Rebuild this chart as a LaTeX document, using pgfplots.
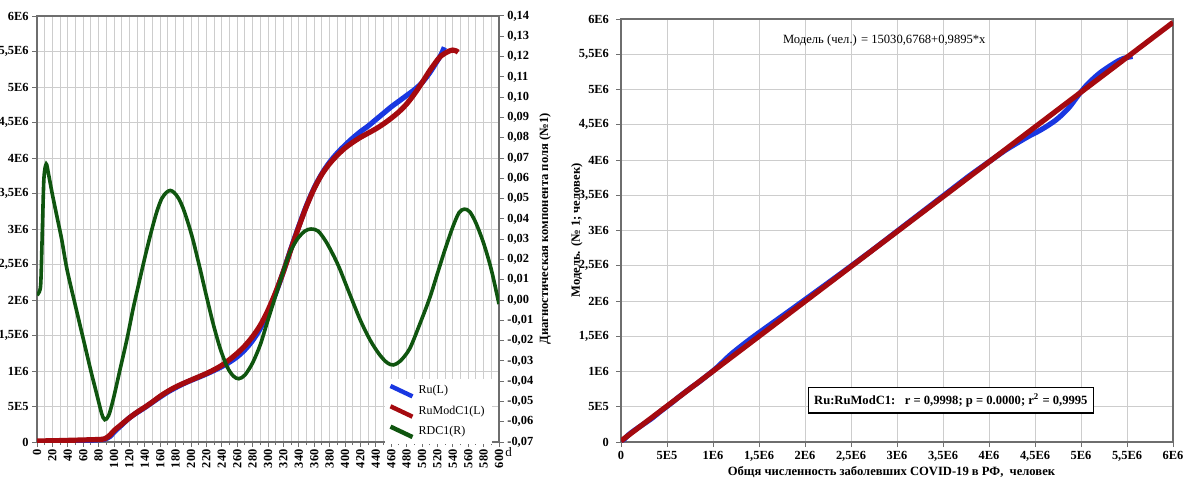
\documentclass[border=0pt]{standalone}
\usepackage{fontspec}
\setmainfont{Liberation Serif}
\usepackage{pgfplots}
\pgfplotsset{compat=1.18}
\usepackage{pgfplotstable}

\definecolor{cblue}{RGB}{25,55,225}
\definecolor{cred}{RGB}{165,10,15}
\definecolor{cgreen}{RGB}{15,85,15}
\definecolor{gridc}{RGB}{205,205,205}
\definecolor{framec}{RGB}{110,110,110}

\pgfplotstableread{
d Ru Mod
0 0 15000
10 1000 16000
20 3000 18000
30 6000 20000
40 10000 23000
50 14000 26000
60 19000 29000
70 24000 32000
80 31000 36000
88 40000 45000
95 80000 100000
100 140000 160000
110 240000 250000
120 340000 340000
130 415000 420000
140 485000 490000
150 560000 565000
160 635000 645000
170 705000 715000
180 765000 775000
190 820000 825000
200 868000 872000
210 912000 918000
220 958000 965000
230 1008000 1018000
240 1062000 1080000
250 1125000 1160000
260 1200000 1250000
270 1300000 1355000
280 1430000 1485000
290 1600000 1645000
300 1825000 1855000
310 2095000 2110000
320 2400000 2400000
330 2730000 2720000
340 3040000 3030000
350 3330000 3320000
360 3580000 3570000
370 3780000 3770000
380 3940000 3920000
390 4070000 4040000
400 4180000 4140000
410 4280000 4220000
420 4370000 4290000
430 4450000 4350000
440 4540000 4410000
450 4630000 4480000
460 4720000 4560000
470 4800000 4650000
480 4880000 4760000
490 4960000 4900000
500 5060000 5060000
510 5200000 5230000
520 5370000 5380000
525 5460000 5440000
529 5560000 5470000
535 nan 5505000
540 nan 5520000
544 nan 5510000
547 nan 5490000
}\ru

\pgfplotstableread{
d v
0 0.0025
3 0.004
5 0.009
7 0.035
9 0.060
12 0.067
15 0.062
20 0.052
26 0.041
32 0.030
39 0.015
50 -0.003
60 -0.019
70 -0.035
78 -0.047
84 -0.056
88 -0.059
93 -0.057
99 -0.049
108 -0.034
117 -0.019
125 -0.004
134 0.011
142 0.024
150 0.036
156 0.044
162 0.050
168 0.053
173 0.054
178 0.053
184 0.050
190 0.045
197 0.037
203 0.029
212 0.015
220 0.002
229 -0.012
238 -0.024
247 -0.033
255 -0.0375
262 -0.0388
270 -0.037
280 -0.031
290 -0.022
299 -0.011
309 0.001
319 0.013
328 0.023
338 0.030
348 0.034
356 0.035
365 0.034
375 0.029
385 0.022
393 0.0155
405 0.004
420 -0.010
433 -0.020
445 -0.027
455 -0.031
463 -0.032
472 -0.030
484 -0.024
497 -0.012
510 0.001
520 0.013
530 0.025
540 0.036
548 0.0430
555 0.0448
562 0.0435
570 0.038
580 0.028
590 0.015
600 -0.002
}\rdc

\begin{document}
\begin{tikzpicture}
\useasboundingbox (0,0) rectangle (593.5pt,238.5pt);
\pgfplotsset{
  every axis/.append style={
    /pgf/number format/assume math mode=true,
    tick label style={font=\fontsize{6.2}{7}\selectfont\bfseries, text=black},
    label style={font=\fontsize{6.3}{7}\selectfont\bfseries},
    axis line style={framec, line width=0.6pt},
    tick style={framec, line width=0.5pt},
    major tick length=2.5pt,
    minor tick length=1.5pt,
    tick align=outside,
    scaled ticks=false,
  }
}
% ---------------- left panel, left axis
\begin{axis}[at={(18.5pt,17.5pt)}, anchor=south west, scale only axis,
  width=231pt, height=213pt,
  xmin=0, xmax=600, ymin=0, ymax=6000000,
  xtick={0,20,...,600}, minor xtick={10,30,...,590},
  ytick={0,500000,1000000,1500000,2000000,2500000,3000000,3500000,4000000,4500000,5000000,5500000,6000000},
  yticklabels={0,5E5,1E6,{1,5E6},2E6,{2,5E6},3E6,{3,5E6},4E6,{4,5E6},5E6,{5,5E6},6E6},
  xticklabel style={rotate=90, anchor=east, inner sep=1pt},
  yticklabel style={inner sep=1.5pt},
  xtick pos=bottom, ytick pos=left,
  grid=both, major grid style={gridc, line width=0.5pt}, minor grid style={gridc, line width=0.5pt},
]
\addplot[cblue, line width=2.6pt, smooth] table[x=d, y=Ru]{\ru};
\addplot[cred, line width=2.6pt, smooth] table[x=d, y=Mod]{\ru};
\end{axis}
% ---------------- left panel, right axis
\begin{axis}[at={(18.5pt,17.5pt)}, anchor=south west, scale only axis,
  width=231pt, height=213pt,
  xmin=0, xmax=600, ymin=-0.07, ymax=0.14,
  axis x line=none, axis y line*=right,
  ytick={-0.07,-0.06,-0.05,-0.04,-0.03,-0.02,-0.01,0,0.01,0.02,0.03,0.04,0.05,0.06,0.07,0.08,0.09,0.10,0.11,0.12,0.13,0.14},
  yticklabels={{-0,07},{-0,06},{-0,05},{-0,04},{-0,03},{-0,02},{-0,01},{0,00},{0,01},{0,02},{0,03},{0,04},{0,05},{0,06},{0,07},{0,08},{0,09},{0,10},{0,11},{0,12},{0,13},{0,14}},
  yticklabel style={inner sep=1.5pt},
  ylabel={Диагностическая компонента поля (№1)},
  ylabel style={at={(axis description cs:1.10,0.5)}, anchor=center},
  legend image code/.code={\draw[line width=2.2pt,#1] (0pt,2.6pt) -- (11pt,-2.6pt);},
  legend style={at={(axis description cs:0.753,0.150)}, anchor=north west, draw=none, fill=white,
    font=\fontsize{6}{7}\selectfont, inner sep=1.5pt, row sep=0.5pt},
  legend cell align=left,
]
\addlegendimage{cblue, line width=2.6pt}
\addlegendentry{Ru(L)}
\addlegendimage{cred, line width=2.6pt}
\addlegendentry{RuModC1(L)}
\addplot[cgreen, line width=1.8pt, smooth] table[x=d, y=v]{\rdc};
\addlegendentry{RDC1(R)}
\end{axis}
\node[font=\fontsize{6.5}{7}\selectfont, anchor=west, inner sep=0pt] at (252.5pt,12.5pt) {d};
% ---------------- right panel
\begin{axis}[at={(310.5pt,17.5pt)}, anchor=south west, scale only axis,
  width=276pt, height=211.5pt,
  xmin=0, xmax=6000000, ymin=0, ymax=6000000,
  xtick={0,500000,1000000,1500000,2000000,2500000,3000000,3500000,4000000,4500000,5000000,5500000,6000000},
  ytick={0,500000,1000000,1500000,2000000,2500000,3000000,3500000,4000000,4500000,5000000,5500000,6000000},
  xticklabels={0,5E5,1E6,{1,5E6},2E6,{2,5E6},3E6,{3,5E6},4E6,{4,5E6},5E6,{5,5E6},6E6},
  yticklabels={0,5E5,1E6,{1,5E6},2E6,{2,5E6},3E6,{3,5E6},4E6,{4,5E6},5E6,{5,5E6},6E6},
  xticklabel style={inner sep=2pt},
  xtick pos=bottom, ytick pos=left,
  grid=major, major grid style={gridc, line width=0.5pt},
  xlabel={Общя численность заболевших COVID-19 в РФ,\ \ человек},
  xlabel style={at={(axis description cs:0.49,-0.07)}, anchor=center},
  ylabel={Модель. (№ 1; человек)},
  ylabel style={at={(axis description cs:-0.080,0.5)}, anchor=center},
]
\addplot[cblue, line width=2.6pt, smooth] table[x=Ru, y=Mod]{\ru};
\addplot[cred, line width=2.6pt] coordinates {(0,15030.6768) (6000000,5952030.68)};
\node[font=\fontsize{6.3}{7}\selectfont] at (axis description cs:0.477,0.95) {Модель (чел.) = 15030,6768+0,9895*x};
\node[draw=black, fill=white, line width=0.6pt, anchor=west, inner sep=3pt,
  font=\fontsize{6.3}{7}\selectfont\bfseries] at (axis description cs:0.338,0.099)
  {Ru:RuModC1:\ \ \ r = 0,9998; p = 0.0000; r\textsuperscript{2} = 0,9995};
\end{axis}
\end{tikzpicture}
\end{document}
